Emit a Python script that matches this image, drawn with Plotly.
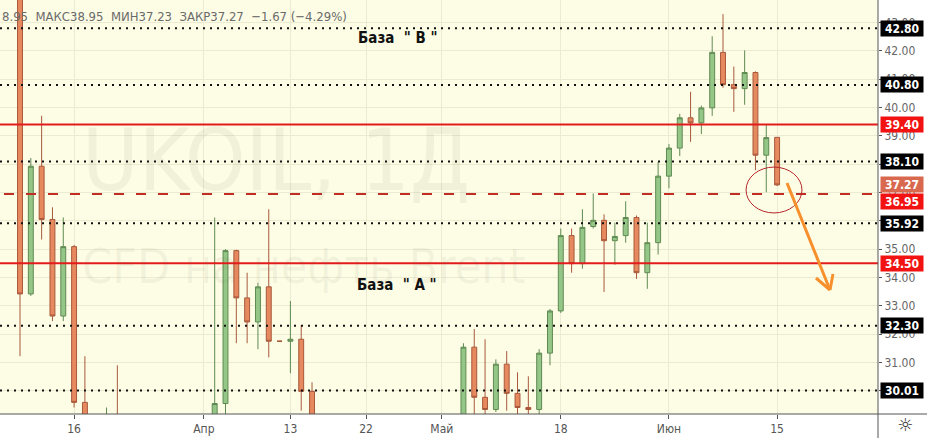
import plotly.graph_objects as go

# ---------------- data ----------------
dates = [
    "2020-03-09", "2020-03-10", "2020-03-11", "2020-03-12", "2020-03-13",
    "2020-03-16", "2020-03-17", "2020-03-18", "2020-03-19", "2020-03-20",
    "2020-03-23", "2020-03-24", "2020-03-25", "2020-03-26", "2020-03-27",
    "2020-03-30", "2020-03-31", "2020-04-01", "2020-04-02", "2020-04-03",
    "2020-04-06", "2020-04-07", "2020-04-08", "2020-04-09", "2020-04-10",
    "2020-04-13", "2020-04-14", "2020-04-15", "2020-04-16", "2020-04-17",
    "2020-04-20", "2020-04-21", "2020-04-22", "2020-04-23", "2020-04-24",
    "2020-04-27", "2020-04-28", "2020-04-29", "2020-04-30", "2020-05-01",
    "2020-05-04", "2020-05-05", "2020-05-06", "2020-05-07", "2020-05-08",
    "2020-05-11", "2020-05-12", "2020-05-13", "2020-05-14", "2020-05-15",
    "2020-05-18", "2020-05-19", "2020-05-20", "2020-05-21", "2020-05-22",
    "2020-05-25", "2020-05-26", "2020-05-27", "2020-05-28", "2020-05-29",
    "2020-06-01", "2020-06-02", "2020-06-03", "2020-06-04", "2020-06-05",
    "2020-06-08", "2020-06-09", "2020-06-10", "2020-06-11", "2020-06-12",
    "2020-06-15",
]
opens = [
    44.50, 33.42, 37.93, 36.05, 32.64,
    35.09, 29.59, 28.50, 25.20, 28.40,
    26.50, 27.00, 27.20, 27.30, 26.20,
    24.10, 22.90, 24.50, 24.80, 29.55,
    34.95, 33.28, 32.43, 33.67, 31.75,
    31.75, 31.82, 29.98, 27.80, 27.90,
    27.30, 25.00, 19.40, 20.40, 21.30,
    21.10, 20.00, 20.60, 22.60, 25.30,
    26.50, 27.30, 31.54, 29.77, 29.34,
    30.94, 29.91, 29.41, 29.34, 31.33,
    32.82, 35.48, 34.49, 35.80, 36.02,
    35.30, 35.48, 36.12, 34.17, 35.23,
    37.58, 38.57, 39.64, 39.46, 39.99,
    41.95, 40.81, 40.67, 41.24, 38.32,
    38.95,
]
highs = [
    44.80, 38.22, 39.71, 36.48, 36.12,
    35.15, 31.22, 28.90, 29.41, 30.90,
    27.50, 28.10, 28.40, 27.70, 26.70,
    24.40, 24.40, 25.90, 36.12, 35.00,
    34.98, 34.17, 33.81, 36.41, 31.75,
    33.17, 32.32, 30.30, 28.60, 28.90,
    27.50, 25.30, 21.00, 22.60, 22.00,
    21.40, 21.40, 23.00, 26.40, 27.10,
    27.60, 31.68, 32.18, 31.82, 31.11,
    31.40, 30.65, 30.51, 31.47, 32.89,
    35.73, 35.73, 36.41, 36.97, 36.23,
    35.94, 36.69, 36.19, 35.94, 38.08,
    38.71, 39.78, 40.56, 40.07, 42.52,
    43.30, 41.45, 42.02, 41.28, 39.39,
    38.95,
]
lows = [
    31.22, 33.35, 35.34, 32.46, 32.46,
    29.41, 27.90, 24.60, 24.50, 25.00,
    24.90, 26.30, 26.10, 25.70, 24.60,
    21.60, 22.30, 24.00, 24.20, 28.90,
    31.68, 31.68, 31.47, 31.18, 31.75,
    30.62, 29.30, 27.60, 26.90, 26.90,
    25.10, 15.90, 15.90, 19.50, 20.40,
    19.10, 19.20, 19.90, 22.20, 24.60,
    25.60, 27.00, 28.90, 28.90, 29.25,
    29.30, 29.10, 29.10, 29.10, 30.90,
    32.75, 34.17, 34.31, 35.73, 33.49,
    34.45, 35.23, 33.95, 33.60, 34.81,
    37.15, 38.29, 38.79, 39.07, 39.71,
    40.70, 39.85, 40.10, 37.79, 37.01,
    37.23,
]
closes = [
    33.42, 37.93, 36.05, 32.64, 35.09,
    29.59, 28.70, 24.90, 28.50, 26.90,
    26.90, 27.10, 27.40, 26.30, 24.90,
    22.80, 23.00, 24.90, 29.55, 34.95,
    33.28, 32.43, 33.67, 31.75, 31.75,
    31.82, 29.98, 27.80, 27.80, 28.10,
    25.60, 19.30, 20.40, 21.30, 21.40,
    19.99, 20.50, 22.50, 25.30, 26.40,
    27.20, 31.54, 29.77, 29.34, 30.94,
    29.91, 29.41, 29.34, 31.33, 32.82,
    35.48, 34.49, 35.77, 36.02, 35.30,
    35.45, 36.12, 34.17, 35.23, 37.58,
    38.57, 39.64, 39.46, 39.99, 41.95,
    40.81, 40.67, 41.24, 38.32, 38.94,
    37.27,
]

tick_dates = ["2020-03-16", "2020-04-01", "2020-04-13", "2020-04-22",
              "2020-05-01", "2020-05-18", "2020-06-01", "2020-06-15"]
tick_text = ["16", "Апр", "13", "22", "Май", "18", "Июн", "15"]
price_ticks = [30, 31, 32, 33, 34, 35, 36, 37, 38, 39, 40, 41, 42, 43]

dotted_levels = [42.80, 40.80, 38.10, 35.92, 32.30, 30.01]
red_levels = [39.40, 34.50]
dashed_level = 36.95
last_close = 37.27

header_text = "8.95  МАКС38.95  МИН37.23  ЗАКР37.27  −1.67 (−4.29%)"
base_b = "База  \" В \""
base_a = "База  \" А \""
watermark_1 = "UKOIL, 1Д"
watermark_2 = "CFD на нефть Brent"

# ---------------- layout geometry ----------------
W, H = 927, 438
PL, PH = 878, 414          # plot area size in px
X_RANGE = [-1.85, 79.33]
Y_RANGE = [29.18, 43.80]


def px_x(p):
    return p / PL


def px_y(p):
    return 1 - p / PH


FONT = "Liberation Sans Narrow, DejaVu Sans Condensed, Liberation Sans, Arial, sans-serif"

fig = go.Figure()
fig.add_trace(go.Candlestick(
    x=dates, open=opens, high=highs, low=lows, close=closes,
    increasing=dict(fillcolor="#94c787", line=dict(color="#5f8a52", width=1)),
    decreasing=dict(fillcolor="#e6895e", line=dict(color="#a8583b", width=1)),
    whiskerwidth=0, hoverinfo="skip", showlegend=False,
))

shapes = []
for lv in dotted_levels:
    shapes.append(dict(type="line", xref="paper", yref="y", x0=0, x1=1, y0=lv, y1=lv,
                       line=dict(color="#111111", width=2, dash="2px,5px")))
for lv in red_levels:
    shapes.append(dict(type="line", xref="paper", yref="y", x0=0, x1=1, y0=lv, y1=lv,
                       line=dict(color="#e21b1b", width=2)))
shapes.append(dict(type="line", xref="paper", yref="y", x0=px_x(4), x1=1,
                   y0=dashed_level, y1=dashed_level,
                   line=dict(color="#c32b25", width=2, dash="10px,12px")))
# ellipse around the last candle
shapes.append(dict(type="circle", xref="x", yref="y", x0=67.13, x1=72.3, y0=36.28, y1=37.90,
                   line=dict(color="#b5262a", width=1)))
# orange arrow
arrow_col = "#f7902c"
shapes.append(dict(type="line", xref="paper", yref="paper",
                   x0=px_x(787), y0=px_y(183), x1=px_x(830), y1=px_y(290),
                   line=dict(color=arrow_col, width=3)))
shapes.append(dict(type="line", xref="paper", yref="paper",
                   x0=px_x(816), y0=px_y(278), x1=px_x(830), y1=px_y(290),
                   line=dict(color=arrow_col, width=3)))
shapes.append(dict(type="line", xref="paper", yref="paper",
                   x0=px_x(833), y0=px_y(274), x1=px_x(830), y1=px_y(290),
                   line=dict(color=arrow_col, width=3)))
# frame lines
shapes.append(dict(type="line", xref="paper", yref="paper", x0=1, x1=1, y0=1, y1=px_y(H),
                   line=dict(color="#555555", width=1)))
shapes.append(dict(type="line", xref="paper", yref="paper", x0=0, x1=px_x(W), y0=0, y1=0,
                   line=dict(color="#555555", width=1)))

annotations = [
    dict(xref="paper", yref="paper", x=px_x(80), y=px_y(160), xanchor="left", yanchor="middle",
         text=watermark_1, showarrow=False,
         font=dict(size=86, color="rgba(90,90,60,0.07)", family=FONT)),
    dict(xref="paper", yref="paper", x=px_x(80), y=px_y(266), xanchor="left", yanchor="middle",
         text=watermark_2, showarrow=False,
         font=dict(size=48, color="rgba(90,90,60,0.07)", family=FONT)),
    dict(xref="paper", yref="paper", x=0, y=px_y(17), xanchor="left", yanchor="middle",
         text=header_text, showarrow=False,
         font=dict(size=13, color="#6a6a6a", family=FONT)),
    dict(xref="paper", yref="paper", x=px_x(397), y=px_y(38), xanchor="center", yanchor="middle",
         text="<b>" + base_b + "</b>", showarrow=False,
         font=dict(size=15, color="#111111", family=FONT)),
    dict(xref="paper", yref="paper", x=px_x(397), y=px_y(285), xanchor="center", yanchor="middle",
         text="<b>" + base_a + "</b>", showarrow=False,
         font=dict(size=15, color="#111111", family=FONT)),
    dict(xref="paper", yref="paper", x=px_x(905), y=px_y(425), xanchor="center", yanchor="middle",
         text="☼", showarrow=False, font=dict(size=18, color="#333333", family="DejaVu Sans")),
]

label_specs = [(lv, "#000000", 0) for lv in dotted_levels]
label_specs += [(lv, "#f21212", 0) for lv in red_levels]
label_specs += [(last_close, "#d8694f", 0), (dashed_level, "#f21212", -8)]
for lv, bg, ys in label_specs:
    annotations.append(dict(
        xref="paper", yref="y", x=1, y=lv, xanchor="left", yanchor="middle", xshift=2, yshift=ys,
        text="<b>%.2f</b>" % lv, showarrow=False, bgcolor=bg, width=40, height=13, borderpad=1,
        font=dict(size=12, color="white", family=FONT),
    ))

fig.update_layout(
    width=W, height=H,
    margin=dict(l=0, r=W - PL, t=0, b=H - PH, autoexpand=False),
    paper_bgcolor="white", plot_bgcolor="#fdfde6",
    boxgap=0.35,
    showlegend=False,
    shapes=shapes, annotations=annotations,
    xaxis=dict(
        type="category", range=X_RANGE, tickvals=tick_dates, ticktext=tick_text,
        showgrid=True, gridcolor="#ebebd2", gridwidth=1,
        ticks="outside", ticklen=4, tickcolor="#555555",
        tickfont=dict(size=12, color="#555555", family=FONT),
        rangeslider=dict(visible=False), showline=False, zeroline=False, fixedrange=True,
    ),
    yaxis=dict(
        side="right", range=Y_RANGE, tickvals=price_ticks, tickformat=".2f",
        showgrid=True, gridcolor="#ebebd2", gridwidth=1,
        ticks="outside", ticklen=3, tickcolor="#555555",
        tickfont=dict(size=12, color="#666666", family=FONT),
        showline=False, zeroline=False, fixedrange=True,
    ),
)

fig.write_html(
    "out.html",
    config={"displayModeBar": False},
    post_script="document.body.style.margin='0px';document.body.style.padding='0px';",
)
